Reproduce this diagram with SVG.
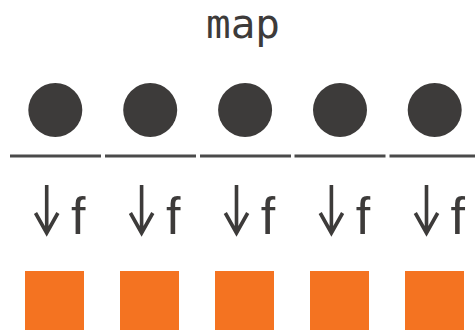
<svg xmlns="http://www.w3.org/2000/svg" width="475" height="332" viewBox="0 0 475 332">
<style>
.dot{fill:#3d3b3a}
.base{stroke:#4a4a4a;stroke-width:3}
.arr{fill:none;stroke:#3d3b3a;stroke-width:3.6;stroke-linecap:butt;stroke-linejoin:miter}
.f{font-family:"Liberation Sans",Arial,sans-serif;font-size:52px;fill:#3d3b3a}
.sq{fill:#f47321}
.title{font-family:"DejaVu Sans Mono",monospace;font-size:41px;fill:#3d3b3a;text-anchor:middle}
</style>
<rect width="475" height="332" fill="#fff"/>
<text class="title" x="243" y="38">map</text>
<g id="connectors">
<line class="base" x1="10" y1="156" x2="101" y2="156"/>
<line class="base" x1="105" y1="156" x2="196" y2="156"/>
<line class="base" x1="200" y1="156" x2="291" y2="156"/>
<line class="base" x1="294.5" y1="156" x2="385.5" y2="156"/>
<line class="base" x1="389.5" y1="156" x2="480" y2="156"/>
</g>
<g id="col1">
<circle class="dot" cx="55.3" cy="110" r="27"/>
<path class="arr" d="M46.7 185V233M35.5 213L46.7 233L57.9 213"/>
<text class="f" x="71" y="234">f</text>
<rect class="sq" x="25" y="271" width="59" height="59"/>
</g>
<g id="col2">
<circle class="dot" cx="150.2" cy="110" r="27"/>
<path class="arr" d="M141.6 185V233M130.4 213L141.6 233L152.8 213"/>
<text class="f" x="165.9" y="234">f</text>
<rect class="sq" x="120" y="271" width="59" height="59"/>
</g>
<g id="col3">
<circle class="dot" cx="245.1" cy="110" r="27"/>
<path class="arr" d="M236.5 185V233M225.3 213L236.5 233L247.7 213"/>
<text class="f" x="260.8" y="234">f</text>
<rect class="sq" x="215" y="271" width="59" height="59"/>
</g>
<g id="col4">
<circle class="dot" cx="340" cy="110" r="27"/>
<path class="arr" d="M331.4 185V233M320.2 213L331.4 233L342.6 213"/>
<text class="f" x="355.7" y="234">f</text>
<rect class="sq" x="310" y="271" width="59" height="59"/>
</g>
<g id="col5">
<circle class="dot" cx="434.7" cy="110" r="27"/>
<path class="arr" d="M426.5 185V233M415.3 213L426.5 233L437.7 213"/>
<text class="f" x="450.6" y="234">f</text>
<rect class="sq" x="405" y="271" width="59" height="59"/>
</g>
</svg>
